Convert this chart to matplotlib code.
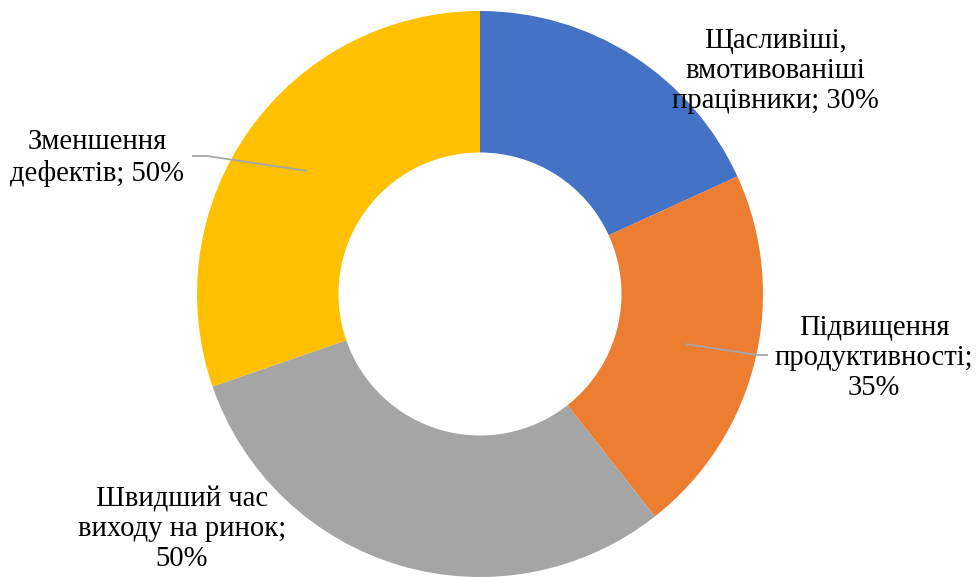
import numpy as np
import matplotlib.pyplot as plt

# donut segments, clockwise from 12 o'clock
labels = [
    "Щасливіші,\nвмотивованіші\nпрацівники",
    "Підвищення\nпродуктивності;\n",
    "Швидший час\nвиходу на ринок;\n",
    "Зменшення\nдефектів",
]
values = [30, 35, 50, 50]
colors = ["#4472C4", "#ED7D31", "#A5A5A5", "#FFC000"]


def label_text(lbl, v):
    if lbl.endswith("\n"):
        return "{}{}%".format(lbl, v)
    return "{}; {}%".format(lbl, v)


W, H = 979, 577
fig = plt.figure(figsize=(W / 100, H / 100), dpi=100)
ax = fig.add_axes([0, 0, 1, 1])

cx, cy = 480, 283
R = 283
ring = 0.5
wedges, _ = ax.pie(values, colors=colors, startangle=90, counterclock=False,
                   radius=R, center=(cx, cy),
                   wedgeprops=dict(width=R * ring, linewidth=0))

ax.set_xlim(0, W)
ax.set_ylim(0, H)
ax.set_aspect("equal")
ax.axis("off")

# label positions (centre of each text block)
label_pos = [(775, 506), (874, 219), (182, 48), (97, 419)]
# leader line elbow points, None where the label sits without one
elbows = [None, [(757, 222), (768, 222)], None, [(207, 421), (192, 421)]]

for i, w in enumerate(wedges):
    tx, ty = label_pos[i]
    ax.text(tx, ty, label_text(labels[i], values[i]), ha="center", va="center",
            fontsize=20.6, family="Liberation Serif", linespacing=1.2,
            color="#000000")
    if elbows[i] is not None:
        mid = np.deg2rad((w.theta1 + w.theta2) / 2)
        r_mid = R * (1 - ring / 2)
        sx = cx + r_mid * np.cos(mid)
        sy = cy + r_mid * np.sin(mid)
        xs = [sx] + [p[0] for p in elbows[i]]
        ys = [sy] + [p[1] for p in elbows[i]]
        ax.plot(xs, ys, color="#A6A6A6", linewidth=1.3, solid_capstyle="butt")

fig.savefig("out.png", dpi=100, facecolor="white")
